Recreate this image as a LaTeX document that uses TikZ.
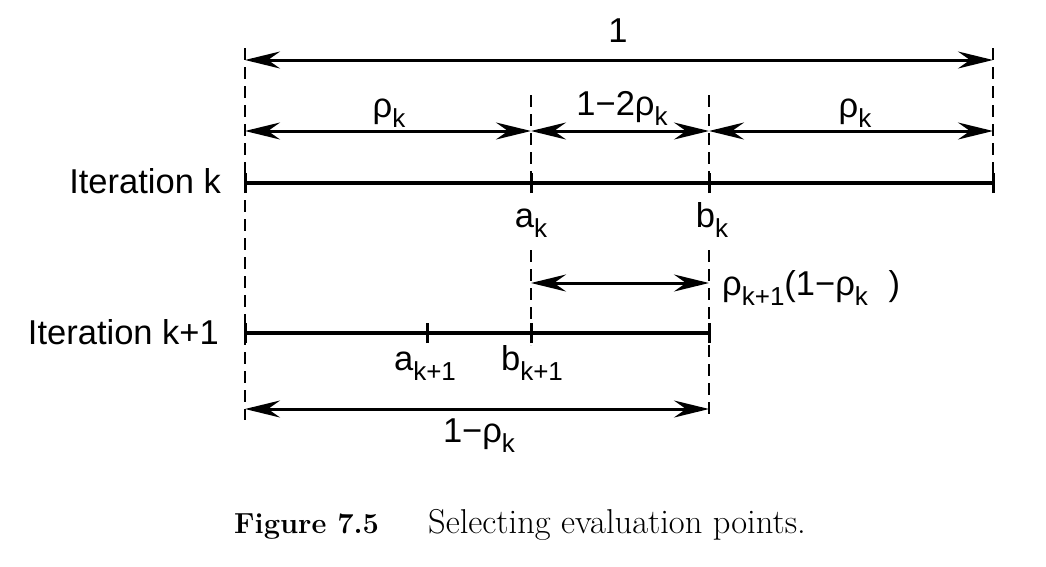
\documentclass[tikz,border=0pt]{standalone}
\usepackage{fontspec}
\newfontfamily\hv{Liberation Sans}
\usetikzlibrary{arrows.meta}
\newcommand{\lsub}[1]{\raisebox{-0.3em}{\fontsize{26}{26}\selectfont #1}}
\begin{document}
\begin{tikzpicture}[x=1pt,y=-1pt,
  dimtip/.tip={Stealth[length=35pt,width=17pt,inset=12pt]},
  dim/.style={line width=3pt,{dimtip}-{dimtip}},
  guide/.style={line width=2pt,dash pattern=on 12pt off 7pt},
  axis/.style={line width=3.2pt},
  tickmark/.style={line width=3pt},
  lbl/.style={font=\hv\fontsize{34.5}{38}\selectfont,inner sep=0pt,anchor=base},
  captext/.style={inner sep=0pt,anchor=base west}]
\useasboundingbox (0,0) rectangle (1046,566);
% guide lines
\coordinate (Ltop) at (245,48);  \coordinate (Lbot) at (245,420);
\coordinate (Atop) at (531,95);  \coordinate (Amid) at (531,183);
\coordinate (Alow) at (531,250); \coordinate (Abot) at (531,345);
\coordinate (Btop) at (709,95);  \coordinate (Bmid) at (709,183);
\coordinate (Blow) at (709,250); \coordinate (Bbot) at (709,420);
\coordinate (Rtop) at (993,48);  \coordinate (Rbot) at (993,195);
\draw[guide] (Ltop) -- (Lbot);
\draw[guide] (Atop) -- (Amid);
\draw[guide] (Alow) -- (Abot);
\draw[guide] (Btop) -- (Bmid);
\draw[guide] (Blow) -- (Bbot);
\draw[guide] (Rtop) -- (Rbot);
% iteration k line
\coordinate (k0) at (245,183); \coordinate (ka) at (531,183);
\coordinate (kb) at (709,183); \coordinate (k1) at (993,183);
\draw[axis] (k0) -- (k1);
\foreach \p in {k0,ka,kb,k1} \draw[tickmark] ([yshift=-10pt]\p) -- ([yshift=10pt]\p);
% iteration k+1 line
\coordinate (m0) at (245,333); \coordinate (ma) at (427,333);
\coordinate (mb) at (531,333); \coordinate (m1) at (709,333);
\draw[axis] (m0) -- (m1);
\foreach \p in {m0,ma,mb,m1} \draw[tickmark] ([yshift=-10pt]\p) -- ([yshift=10pt]\p);
% dimension arrows
\coordinate (t0) at (245,60);  \coordinate (t1) at (993,60);
\coordinate (s0) at (245,131); \coordinate (sa) at (531,131);
\coordinate (sb) at (709,131); \coordinate (s1) at (993,131);
\coordinate (pa) at (531,283); \coordinate (pb) at (709,283);
\coordinate (q0) at (245,409); \coordinate (q1) at (709,409);
\draw[dim] (t0) -- (t1);
\draw[dim] (s0) -- (sa);
\draw[dim] (sa) -- (sb);
\draw[dim] (sb) -- (s1);
\draw[dim] (pa) -- (pb);
\draw[dim] (q0) -- (q1);
% labels
\node[lbl] (one) at (618,42) {1};
\node[lbl] (rk1) at (389,117) {ρ\lsub{k}};
\node[lbl] (mid) at (622,115) {1−2ρ\lsub{k}};
\node[lbl] (rk2) at (855,117) {ρ\lsub{k}};
\node[lbl,anchor=base east] (itk) at (221,193) {Iteration k};
\node[lbl,anchor=base east] (itk1) at (219,344) {Iteration k+1};
\node[lbl] (ak) at (531,227) {a\lsub{k}};
\node[lbl] (bk) at (712,227) {b\lsub{k}};
\node[lbl,anchor=base west] (rr) at (722,295) {ρ\lsub{k+1}(1−ρ\lsub{k}\hspace{0.6em})};
\node[lbl] (ak1) at (425,370) {a\lsub{k+1}};
\node[lbl] (bk1) at (532,370) {b\lsub{k+1}};
\node[lbl] (omr) at (479,442) {1−ρ\lsub{k}};
\node[captext,font=\fontsize{29}{32}\selectfont\bfseries] (fig) at (234,533) {Figure 7.5};
\node[captext,font=\fontsize{34.5}{38}\selectfont] (capt) at (428,533) {Selecting evaluation points.};
\end{tikzpicture}
\end{document}
